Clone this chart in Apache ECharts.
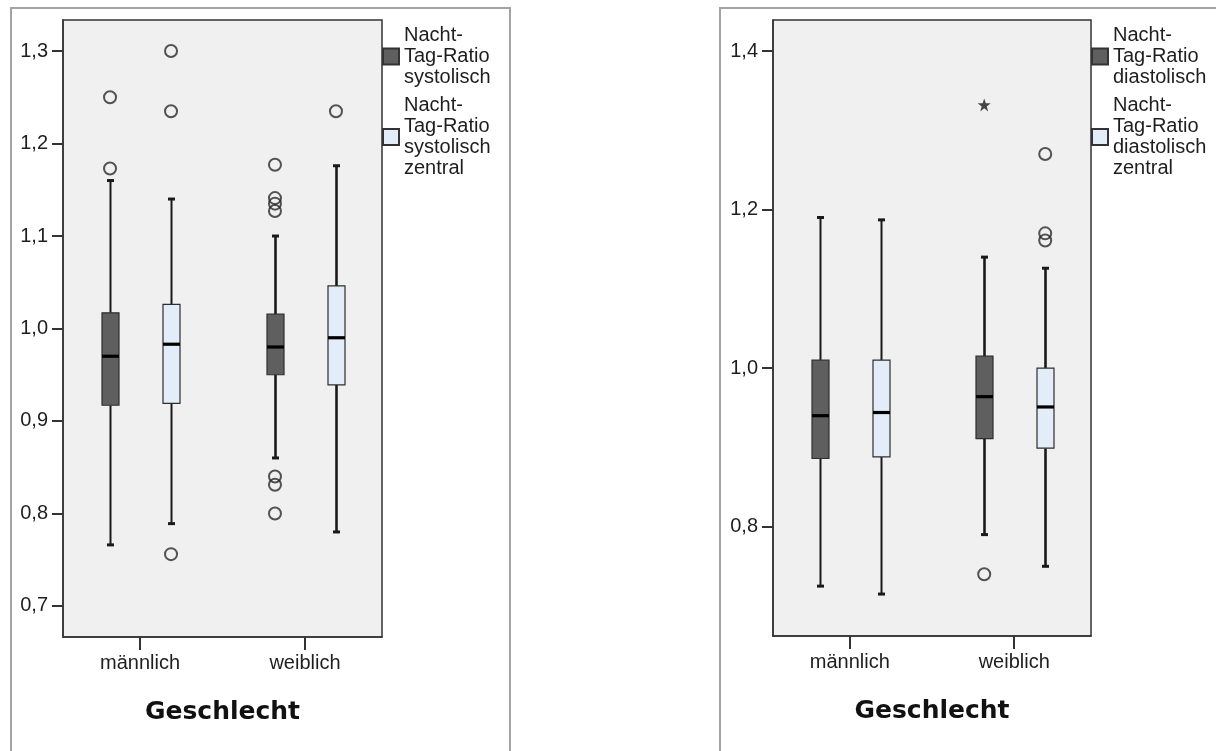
<!DOCTYPE html>
<html>
<head>
<meta charset="utf-8">
<script src="https://cdn.jsdelivr.net/npm/echarts@6/dist/echarts.min.js"></script>
<style>
html,body{margin:0;padding:0;background:#fff;}
#chart{width:1216px;height:751px;}
</style>
</head>
<body>
<div id="chart"></div>
<script>
// ---------- data ----------
const categories = ['männlich', 'weiblich'];
const axisTitle = 'Geschlecht';

const sysNames = ['Nacht-Tag-Ratio systolisch', 'Nacht-Tag-Ratio systolisch zentral'];
const diaNames = ['Nacht-Tag-Ratio diastolisch', 'Nacht-Tag-Ratio diastolisch zentral'];
const sysLegendLabels = ['Nacht-\nTag-Ratio\nsystolisch', 'Nacht-\nTag-Ratio\nsystolisch\nzentral'];
const diaLegendLabels = ['Nacht-\nTag-Ratio\ndiastolisch', 'Nacht-\nTag-Ratio\ndiastolisch\nzentral'];

// [min, Q1, median, Q3, max] per category (männlich, weiblich)
const sysBox        = [[0.766, 0.917, 0.970, 1.017, 1.160], [0.860, 0.950, 0.980, 1.0155, 1.100]];
const sysZentralBox = [[0.789, 0.919, 0.983, 1.026, 1.140], [0.780, 0.939, 0.990, 1.046, 1.176]];
const diaBox        = [[0.725, 0.886, 0.940, 1.010, 1.190], [0.790, 0.911, 0.964, 1.015, 1.140]];
const diaZentralBox = [[0.715, 0.888, 0.944, 1.010, 1.187], [0.750, 0.899, 0.951, 1.000, 1.126]];

// outliers: [categoryIndex, value]
const sysOutliers        = [[0, 1.250], [0, 1.173], [1, 1.177], [1, 1.141], [1, 1.135], [1, 1.127], [1, 0.840], [1, 0.831], [1, 0.800]];
const sysZentralOutliers = [[0, 1.300], [0, 1.235], [0, 0.756], [1, 1.235]];
const diaOutliers        = [[1, 0.740]];
const diaExtremes        = [[1, 1.332]];
const diaZentralOutliers = [[1, 1.270], [1, 1.170], [1, 1.161]];

const yTicksSys = [0.7, 0.8, 0.9, 1.0, 1.1, 1.2, 1.3];
const yTicksDia = [0.8, 1.0, 1.2, 1.4];

// ---------- style ----------
const FONT = 'Liberation Sans, Arial, sans-serif';
const DARK = '#5f5f5f';
const LIGHT = '#e3edf9';
const LEFT_OFF = -30, RIGHT_OFF = 31, BOX_W = 17;

function boxRender(offset, fill) {
  return function (params, api) {
    const x = api.value(0);
    const pMin = api.coord([x, api.value(1)]);
    const pQ1 = api.coord([x, api.value(2)]);
    const pMed = api.coord([x, api.value(3)]);
    const pQ3 = api.coord([x, api.value(4)]);
    const pMax = api.coord([x, api.value(5)]);
    const cx = Math.round(pMin[0] + offset) + 0.5;
    const lw = x === 1 ? 2.6 : 2;
    const line = (x1, y1, x2, y2, w, c) => ({
      type: 'line', shape: {x1, y1, x2, y2},
      style: {stroke: c || '#1a1a1a', lineWidth: w}
    });
    return {
      type: 'group',
      children: [
        line(cx, pQ3[1], cx, pMax[1], lw),
        line(cx, pQ1[1], cx, pMin[1], lw),
        line(cx - 3.5, pMax[1], cx + 3.5, pMax[1], 3),
        line(cx - 3.5, pMin[1], cx + 3.5, pMin[1], 3),
        {
          type: 'rect',
          shape: {x: cx - BOX_W / 2, y: pQ3[1], width: BOX_W, height: pQ1[1] - pQ3[1]},
          style: {fill: fill, stroke: '#2e2e2e', lineWidth: 1.2}
        },
        line(cx - BOX_W / 2, pMed[1], cx + BOX_W / 2, pMed[1], 3.2, '#000')
      ]
    };
  };
}

function boxSeries(name, data, offset, fill, idx) {
  return {
    type: 'custom', name: name, xAxisIndex: idx, yAxisIndex: idx,
    renderItem: boxRender(offset, fill),
    itemStyle: {color: fill, borderColor: '#333', borderWidth: 1},
    encode: {x: 0, y: [1, 2, 3, 4, 5]},
    data: data.map((b, i) => [i].concat(b)),
    silent: true, z: 3
  };
}

function outlierSeries(name, data, offset, idx) {
  return {
    type: 'scatter', name: name, xAxisIndex: idx, yAxisIndex: idx,
    symbol: 'circle', symbolSize: 12, symbolOffset: [offset, 0],
    itemStyle: {color: 'rgba(0,0,0,0)', borderColor: '#2a2a2a', borderWidth: 2},
    data: data, silent: true, z: 4
  };
}

const starPath = 'path://M50,0 L61.8,35.3 L98.1,35.3 L68.8,57 L79.4,92.7 L50,71 L20.6,92.7 L31.2,57 L1.9,35.3 L38.2,35.3 Z';

function xAxisCfg(idx) {
  return {
    type: 'value', gridIndex: idx, min: -0.467, max: 1.467,
    name: axisTitle, nameLocation: 'middle', nameGap: 63,
    nameTextStyle: {fontFamily: 'DejaVu Sans', fontWeight: 'bold', fontSize: 25, color: '#111'},
    axisLine: {show: true, onZero: false, lineStyle: {color: '#333', width: 1.5}},
    axisTick: {show: true, customValues: [0, 1], length: 13, lineStyle: {color: '#333', width: 2}},
    axisLabel: {customValues: [0, 1], margin: 16, fontFamily: FONT, fontSize: 20, color: '#1e1e1e',
      formatter: v => categories[Math.round(v)]},
    splitLine: {show: false}
  };
}

function yAxisCfg(idx, min, max, ticks) {
  return {
    type: 'value', gridIndex: idx, min: min, max: max,
    axisLine: {show: true, onZero: false, lineStyle: {color: '#333', width: 1.5}},
    axisTick: {show: true, customValues: ticks, length: 11, lineStyle: {color: '#333', width: 2}},
    axisLabel: {customValues: ticks, margin: 15, fontFamily: FONT, fontSize: 20, color: '#1e1e1e',
      formatter: v => v.toFixed(1).replace('.', ',')},
    splitLine: {show: false}
  };
}

function legendCfg(left, names, labels) {
  return {
    orient: 'vertical', left: left, top: 25, padding: 0, itemGap: 7,
    itemWidth: 16, itemHeight: 16, icon: 'rect',
    data: names,
    formatter: n => labels[names.indexOf(n)],
    textStyle: {fontFamily: FONT, fontSize: 20, lineHeight: 21, color: '#1e1e1e'},
    selectedMode: false
  };
}

const chart = echarts.init(document.getElementById('chart'), null, {renderer: 'canvas'});
chart.setOption({
  animation: false,
  backgroundColor: '#fff',
  graphic: [
    {type: 'rect', shape: {x: 11, y: 8, width: 499, height: 800}, style: {fill: 'none', stroke: '#a3a3a3', lineWidth: 2}, z: -10},
    {type: 'rect', shape: {x: 720, y: 8, width: 600, height: 800}, style: {fill: 'none', stroke: '#a3a3a3', lineWidth: 2}, z: -10}
  ],
  grid: [
    {left: 63, top: 20, width: 319, height: 617, show: true, backgroundColor: '#f0f0f0', borderColor: '#333', borderWidth: 1.5},
    {left: 773, top: 20, width: 318, height: 616, show: true, backgroundColor: '#f0f0f0', borderColor: '#333', borderWidth: 1.5}
  ],
  xAxis: [xAxisCfg(0), xAxisCfg(1)],
  yAxis: [
    yAxisCfg(0, 0.6664, 1.3336, yTicksSys),
    yAxisCfg(1, 0.6621, 1.4391, yTicksDia)
  ],
  legend: [
    legendCfg(382, sysNames, sysLegendLabels),
    legendCfg(1091, diaNames, diaLegendLabels)
  ],
  series: [
    boxSeries(sysNames[0], sysBox, LEFT_OFF, DARK, 0),
    boxSeries(sysNames[1], sysZentralBox, RIGHT_OFF, LIGHT, 0),
    outlierSeries('Ausreißer systolisch', sysOutliers, LEFT_OFF, 0),
    outlierSeries('Ausreißer systolisch zentral', sysZentralOutliers, RIGHT_OFF, 0),
    boxSeries(diaNames[0], diaBox, LEFT_OFF, DARK, 1),
    boxSeries(diaNames[1], diaZentralBox, RIGHT_OFF, LIGHT, 1),
    outlierSeries('Ausreißer diastolisch', diaOutliers, LEFT_OFF, 1),
    outlierSeries('Ausreißer diastolisch zentral', diaZentralOutliers, RIGHT_OFF, 1),
    {
      type: 'scatter', name: 'Extremwerte diastolisch', xAxisIndex: 1, yAxisIndex: 1,
      symbol: starPath, symbolSize: 13, symbolOffset: [LEFT_OFF, 0],
      itemStyle: {color: '#1a1a1a'}, data: diaExtremes, silent: true, z: 4
    }
  ]
});
</script>
</body>
</html>
